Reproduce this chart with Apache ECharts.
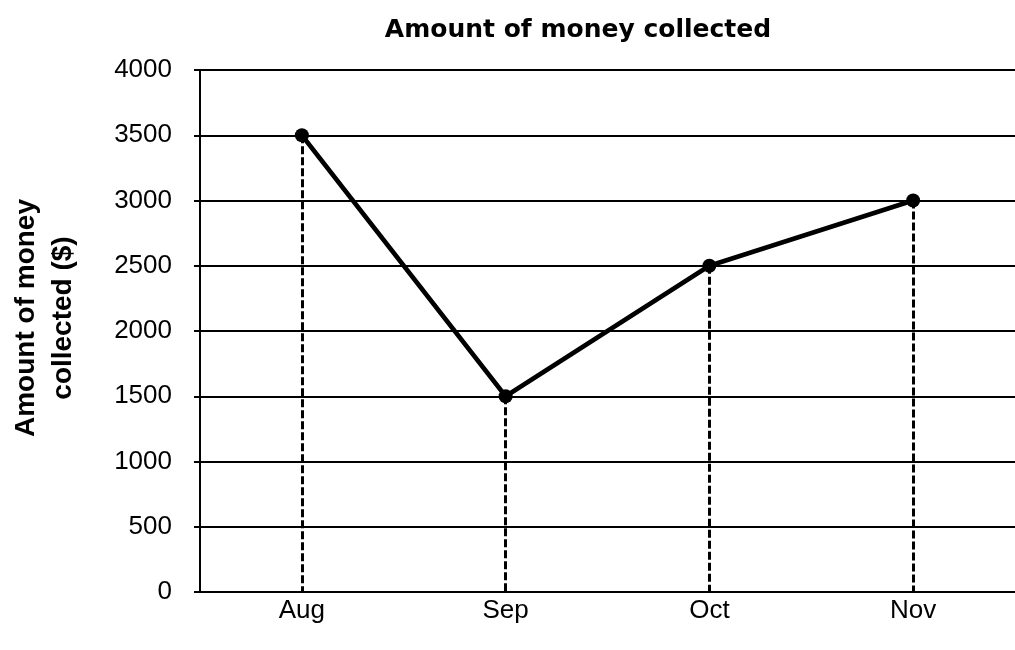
<!DOCTYPE html>
<html>
<head>
<meta charset="utf-8">
<script src="https://cdn.jsdelivr.net/npm/echarts@6/dist/echarts.min.js"></script>
<style>html,body{margin:0;padding:0;background:#fff}#c{width:1015px;height:650px}</style>
</head>
<body>
<div id="c"></div>
<script>
const titleText = 'Amount of money collected';
const yAxisName = 'Amount of money\ncollected ($)';
const months = ['Aug', 'Sep', 'Oct', 'Nov'];
const amounts = [3500, 1500, 2500, 3000];

const dropLines = months.map((m, i) => [
  { coord: [m, amounts[i]] },
  { coord: [m, 0] }
]);

const chart = echarts.init(document.getElementById('c'));
chart.setOption({
  backgroundColor: '#fff',
  animation: false,
  title: {
    text: titleText,
    left: 573,
    top: 13,
    textAlign: 'center',
    textStyle: { fontFamily: 'DejaVu Sans', fontWeight: 'bold', fontSize: 25, color: '#000' }
  },
  grid: { left: 199, right: 0, top: 70, bottom: 58 },
  xAxis: {
    type: 'category',
    data: months,
    boundaryGap: true,
    axisLine: { lineStyle: { color: '#000', width: 2 } },
    axisTick: { show: false },
    axisLabel: { color: '#000', fontFamily: 'Liberation Sans', fontSize: 26, margin: 6 },
    splitLine: { show: false }
  },
  yAxis: {
    type: 'value',
    min: 0,
    max: 4000,
    interval: 500,
    name: yAxisName,
    nameLocation: 'middle',
    nameGap: 118,
    nameTextStyle: { fontFamily: 'Liberation Sans', fontWeight: 'bold', fontSize: 28, color: '#000', lineHeight: 37, align: 'center', padding: [0, 0, 0, 26] },
    axisLine: { show: true, lineStyle: { color: '#000', width: 2 } },
    axisTick: { show: true, length: 6, lineStyle: { color: '#000', width: 2 } },
    axisLabel: { color: '#000', fontFamily: 'Liberation Sans', fontSize: 26, margin: 28, formatter: v => String(v) },
    splitLine: { show: true, lineStyle: { color: '#000', width: 2 } }
  },
  series: [{
    type: 'line',
    data: amounts,
    symbol: 'circle',
    symbolSize: 14,
    lineStyle: { color: '#000', width: 4.5 },
    itemStyle: { color: '#000' },
    z: 5,
    markLine: {
      silent: true,
      symbol: ['none', 'none'],
      label: { show: false },
      lineStyle: { color: '#000', width: 3, type: [8, 3] },
      data: dropLines
    }
  }]
});
</script>
</body>
</html>
